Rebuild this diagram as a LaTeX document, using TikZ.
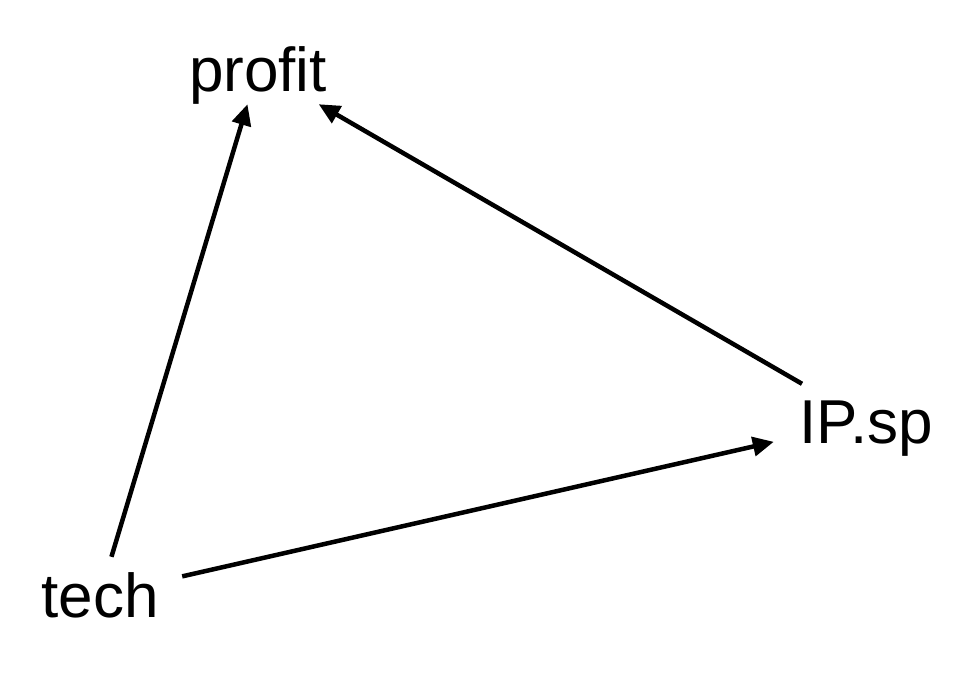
\documentclass[tikz,border=0pt]{standalone}
\usepackage{fontspec}
\setmainfont{Liberation Sans}
\usetikzlibrary{arrows.meta}
\begin{document}
\begin{tikzpicture}[x=1pt,y=-1pt,
  var/.style={inner sep=0pt, text height=44pt, text depth=0pt,
    font=\fontsize{62}{74}\selectfont},
  edge/.style={draw=black, line width=4.5pt, -{Triangle[length=21pt,width=19pt]}}]
\useasboundingbox (0,0) rectangle (960,672);
\node[var, minimum width=164pt, minimum height=76pt] (tech) at (100,595) {tech};
\node[var, minimum width=150pt, minimum height=70pt] (profit) at (258,69) {profit};
\node[var, minimum width=184pt, minimum height=74pt] (ip) at (866,421) {IP.sp};
\draw[edge] (tech) -- (profit);
\draw[edge] (ip) -- (profit);
\draw[edge] (tech) -- (ip);
\end{tikzpicture}
\end{document}
